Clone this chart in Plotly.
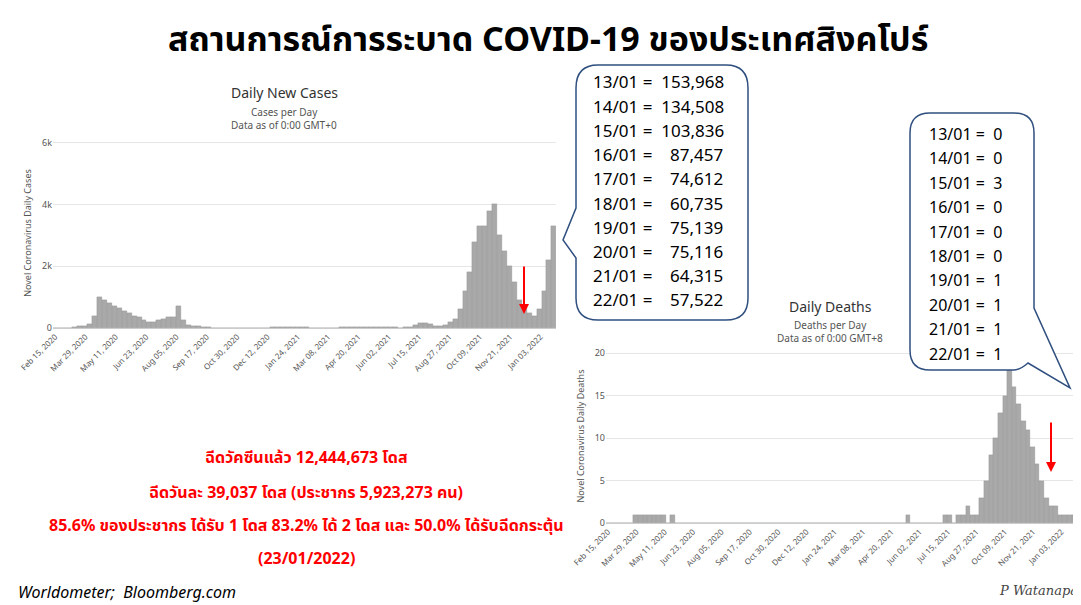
import pandas as pd
import plotly.graph_objects as go

W, H = 1081, 605

# weekly figures (approximate daily levels), weeks starting 15 Feb 2020
cases = [5, 5, 5, 10, 20, 50, 70, 120, 400, 1000, 900, 800, 700, 650, 550, 500,
         400, 350, 250, 200, 200, 250, 300, 350, 350, 700, 250, 100, 60, 50, 30, 20, 15,
         10, 10, 8, 8, 8, 8, 8, 8, 8, 10, 15, 20, 20,
         25, 25, 25, 30, 25, 20, 15, 15, 15, 15, 15, 15, 20, 20, 25, 25, 25,
         30, 35, 40, 30, 25, 25, 20, 15, 20, 20, 100, 150, 160, 120, 80, 80, 100, 200,
         300, 600, 1200, 1800, 2800, 3300, 3300, 3800, 4000, 3000, 2500, 2000, 1500,
         900, 700, 500, 400, 600, 1200, 2200, 3300]
deaths = [0, 0, 0, 0, 0, 0, 1, 1, 1, 1, 1, 1, 1, 0, 1, 0,
          0, 0, 0, 0, 0, 0, 0, 0, 0, 0, 0, 0, 0, 0, 0, 0, 0,
          0, 0, 0, 0, 0, 0, 0, 0, 0, 0, 0, 0, 0,
          0, 0, 0, 0, 0, 0, 0, 0, 0, 0, 0, 0, 0, 0, 0, 0, 0,
          0, 0, 1, 0, 0, 0, 0, 0, 0, 0, 1, 1, 0, 1, 1, 2, 1, 1,
          3, 5, 8, 10, 13, 15, 18, 16, 14, 12, 11, 9, 7,
          5, 3, 2, 2, 1, 1, 1, 1]
weeks = pd.date_range("2020-02-15", periods=len(cases), freq="7D")

callout_cases = ["13/01 =  153,968", "14/01 =  134,508", "15/01 =  103,836", "16/01 =    87,457",
                 "17/01 =    74,612", "18/01 =    60,735", "19/01 =    75,139", "20/01 =    75,116",
                 "21/01 =    64,315", "22/01 =    57,522"]
callout_deaths = ["13/01 =  0", "14/01 =  0", "15/01 =  3", "16/01 =  0", "17/01 =  0",
                  "18/01 =  0", "19/01 =  1", "20/01 =  1", "21/01 =  1", "22/01 =  1"]

def px(x): return x / W
def py(y): return 1 - y / H

FONT = "Noto Sans, Noto Sans Thai, sans-serif"
fig = go.Figure()
bar = dict(marker_color="#a9a9a9", marker_line_color="#8a8a8a", marker_line_width=0.3, showlegend=False)
fig.add_trace(go.Bar(x=weeks, y=cases, width=7*86400000, xaxis="x", yaxis="y", **bar))
fig.add_trace(go.Bar(x=weeks, y=deaths, width=7*86400000, xaxis="x2", yaxis="y2", **bar))

xcommon = dict(type="date", tick0="2020-02-15", dtick=43*86400000, tickformat="%b %d, %Y",
               tickangle=-45, tickfont=dict(size=8, color="#555"), showgrid=False, automargin=False,
               showline=True, linecolor="#ccc", range=["2020-02-12", "2022-01-25"])
fig.update_layout(
    width=W, height=H, margin=dict(l=0, r=0, t=0, b=0, autoexpand=False),
    paper_bgcolor="white", plot_bgcolor="white", bargap=0, font=dict(family=FONT),
    xaxis=dict(domain=[px(45), px(548)], anchor="y", **xcommon),
    yaxis=dict(domain=[py(320), py(130)], anchor="x", range=[0, 6150], tickvals=[0, 2000, 4000, 6000],
               ticktext=["0", "2k", "4k", "6k"], tickfont=dict(size=9, color="#555"),
               gridcolor="#e6e6e6", zeroline=False, automargin=False,
               title=dict(text="Novel Coronavirus Daily Cases", font=dict(size=9, color="#555"), standoff=8)),
    xaxis2=dict(domain=[px(598), px(1068)], anchor="y2", **xcommon),
    yaxis2=dict(domain=[py(515), py(341)], anchor="x2", range=[0, 20.5], tickvals=[0, 5, 10, 15, 20],
                tickfont=dict(size=9, color="#555"), gridcolor="#e6e6e6", zeroline=False, automargin=False,
                title=dict(text="Novel Coronavirus Daily Deaths", font=dict(size=9, color="#555"), standoff=8)),
)

ann = []
def text(x, y, s, size, color="black", anchor="center", bold=False, family=FONT):
    ann.append(dict(x=px(x), y=py(y), xref="paper", yref="paper", text=f"<b>{s}</b>" if bold else s,
                    showarrow=False, xanchor=anchor, yanchor="middle",
                    font=dict(size=size, color=color, family=family)))

text(540, 30, "สถานการณ์การระบาด COVID-19 ของประเทศสิงคโปร์", 34, bold=True)
text(276, 84, "Daily New Cases", 14, "#333")
text(276, 104, "Cases per Day", 10, "#555")
text(276, 117, "Data as of 0:00 GMT+0", 10, "#555")
text(822, 299, "Daily Deaths", 14, "#333")
text(822, 317, "Deaths per Day", 10, "#555")
text(822, 330, "Data as of 0:00 GMT+8", 10, "#555")

red = "#ff0000"
text(298, 449, "ฉีดวัคซีนแล้ว <b>12,444,673</b> โดส", 16, red, bold=True)
text(298, 484, "ฉีดวันละ <b>39,037</b> โดส (ประชากร <b>5,923,273</b> คน)", 16, red, bold=True)
text(298, 517, "<b>85.6%</b> ของประชากร ได้รับ 1 โดส <b>83.2%</b> ได้ 2 โดส และ <b>50.0%</b> ได้รับฉีดกระตุ้น", 16, red, bold=True)
text(298, 550, "(23/01/2022)", 16, red, bold=True)
text(8, 584, "<i>Worldometer;  Bloomberg.com</i>", 16, anchor="left")
text(1072, 582, "<i>P Watanapa</i>", 13, "#444", anchor="right", family="DejaVu Serif")

for i, s in enumerate(callout_cases):
    text(583, 74 + i * 24.2, s, 17, anchor="left")
for i, s in enumerate(callout_deaths):
    text(919, 126 + i * 24.4, s, 16, anchor="left")

fig.update_layout(annotations=ann)

def P(x, y): return f"{px(x)},{py(y)}"
shapes = []
# callout 1 with tail to the left
shapes.append(dict(type="path", xref="paper", yref="paper", line=dict(color="#2f4f7f", width=1.5),
    fillcolor="white",
    path=f"M {P(590,57)} L {P(718,57)} Q {P(740,57)} {P(740,80)} L {P(740,290)} Q {P(740,312)} {P(718,312)} "
         f"L {P(590,312)} Q {P(568,312)} {P(568,290)} L {P(568,250)} L {P(555,232)} L {P(568,200)} "
         f"L {P(568,80)} Q {P(568,57)} {P(590,57)} Z"))
# callout 2 with tail down-right
shapes.append(dict(type="path", xref="paper", yref="paper", line=dict(color="#2f4f7f", width=1.5),
    fillcolor="white",
    path=f"M {P(922,105)} L {P(1006,105)} Q {P(1026,105)} {P(1026,125)} L {P(1026,300)} L {P(1062,380)} "
         f"L {P(1020,355)} Q {P(1012,362)} {P(1006,362)} L {P(922,362)} Q {P(902,362)} {P(902,342)} "
         f"L {P(902,125)} Q {P(902,105)} {P(922,105)} Z"))
fig.update_layout(shapes=shapes)

# red arrows
for x0, y0, y1 in [(516, 257, 306), (1043, 413, 464)]:
    fig.add_annotation(x=px(x0), y=py(y1), xref="paper", yref="paper",
                       axref="pixel", ayref="pixel", ax=0, ay=y0 - y1, showarrow=True, arrowhead=2,
                       arrowsize=1, arrowwidth=2, arrowcolor=red, text="")

fig.write_html("out.html")
